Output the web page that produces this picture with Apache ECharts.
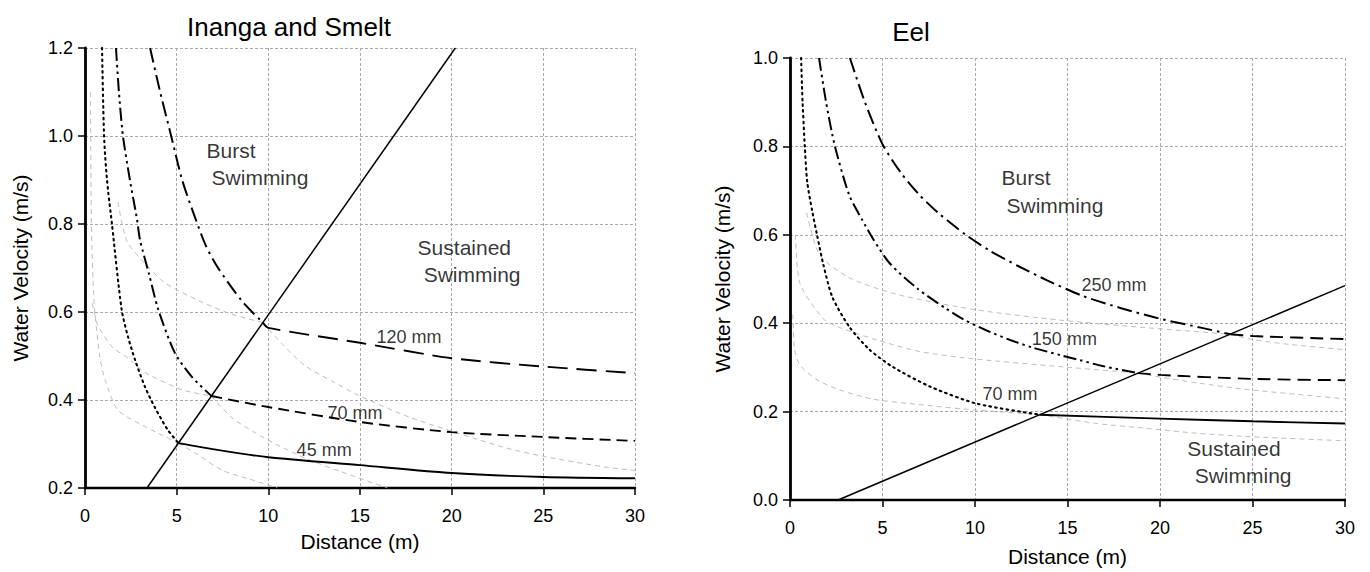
<!DOCTYPE html>
<html>
<head>
<meta charset="utf-8">
<script src="https://cdn.jsdelivr.net/npm/echarts@6/dist/echarts.min.js"></script>
<style>
html,body{margin:0;padding:0;background:#fff;}
#chart{width:1370px;height:572px;}
</style>
</head>
<body>
<div id="chart"></div>
<script>
// ---------- tick settings ----------
const xTicks = {min: 0, max: 30, interval: 5};
const leftYTicks = {min: 0.2, max: 1.2, interval: 0.2};
const rightYTicks = {min: 0, max: 1.0, interval: 0.2};

// ---------- Inanga and Smelt (left) ----------
const inLimitLine = [[3.38, 0.2], [20.2, 1.2]];
const in45Burst = [[0.93,1.2],[1.04,1.0],[1.2,0.9],[1.47,0.8],[2.0,0.605],[2.35,0.543],[2.73,0.491],[3.27,0.43],[3.8,0.384],[4.5,0.333],[5.1,0.302]];
const in45Sustained = [[5.1,0.302],[7.3,0.286],[10,0.27],[15,0.252],[20,0.234],[25,0.225],[30,0.222]];
const in70Burst = [[1.69,1.2],[1.85,1.1],[2.07,1.0],[2.45,0.9],[2.84,0.81],[3.0,0.764],[3.5,0.685],[4.0,0.605],[4.9,0.507],[5.84,0.452],[6.9,0.409]];
const in70Sustained = [[6.9,0.409],[10,0.384],[15,0.35],[20,0.327],[25,0.316],[30,0.307]];
const in120Burst = [[3.55,1.2],[4.1,1.1],[4.7,1.0],[5.3,0.9],[6.0,0.815],[6.6,0.75],[7.26,0.7],[8.56,0.625],[9.7,0.576]];
const in120Sustained = [[9.7,0.576],[10,0.564],[15,0.53],[20,0.495],[25,0.476],[30,0.461]];
// faint grey continuations
const in45SusGrey = [[0.3,1.1],[0.35,0.8],[0.5,0.62],[0.8,0.5],[1.1,0.445],[1.8,0.377],[3.3,0.339],[5.1,0.302]];
const in45BurstGrey = [[5.1,0.302],[6,0.28],[7.5,0.24],[9,0.22],[10.5,0.2]];
const in70SusGrey = [[0.4,0.62],[0.7,0.57],[1.5,0.52],[2.35,0.495],[3.3,0.462],[5.3,0.423],[6.9,0.409]];
const in70BurstGrey = [[6.9,0.409],[8,0.36],[9.3,0.325],[10.4,0.3],[12,0.268],[13.9,0.238],[16.5,0.2]];
const in120SusGrey = [[1.8,0.85],[2.3,0.76],[3.5,0.7],[4.4,0.665],[6.4,0.622],[8,0.595],[9.7,0.576]];
const in120BurstGrey = [[9.7,0.576],[10.7,0.53],[12,0.478],[13.6,0.44],[14.8,0.413],[17.7,0.361],[22.8,0.293],[25,0.272],[28.3,0.248],[30,0.24]];

// ---------- Eel (right) ----------
const eelLimitLine = [[2.6, 0], [30, 0.485]];
const eel70Burst = [[0.6,1.0],[0.68,0.9],[0.8,0.8],[0.93,0.72],[1.2,0.654],[1.46,0.6],[1.8,0.533],[2.3,0.458],[3.24,0.39],[4.3,0.34],[5.6,0.30],[7.6,0.256],[10.1,0.218],[13.5,0.193]];
const eel70Sustained = [[13.5,0.193],[20,0.184],[25,0.178],[30,0.173]];
const eel150Burst = [[1.57,1.0],[1.95,0.9],[2.43,0.8],[3.2,0.69],[3.9,0.634],[4.5,0.59],[5.4,0.535],[6.9,0.478],[8.4,0.434],[9.4,0.408],[10.6,0.384],[11.9,0.362],[13.1,0.345],[14.6,0.328],[15.7,0.316],[16.9,0.303],[18.8,0.287]];
const eel150Sustained = [[18.8,0.287],[20,0.283],[25,0.274],[30,0.271]];
const eel250Burst = [[3.24,1.0],[4.05,0.9],[5.0,0.805],[6.0,0.74],[7.0,0.69],[8.0,0.65],[9.5,0.6],[10.8,0.564],[12.3,0.53],[13.9,0.497],[15.8,0.462],[17.9,0.434],[20,0.41],[22.2,0.39],[23.8,0.375]];
const eel250Sustained = [[23.8,0.375],[25,0.371],[30,0.364]];
const eel70SusGrey = [[0.15,0.42],[0.25,0.34],[0.54,0.305],[1.46,0.272],[2.7,0.249],[4.5,0.228],[7.2,0.215],[9.9,0.204],[13.5,0.193]];
const eel70BurstGrey = [[13.5,0.193],[16.6,0.173],[19.3,0.162],[22,0.151],[25,0.143],[30,0.134]];
const eel150SusGrey = [[0.3,0.6],[0.54,0.49],[1.8,0.41],[2.7,0.39],[4.7,0.362],[7,0.336],[10,0.319],[14.8,0.301],[18.8,0.287]];
const eel150BurstGrey = [[18.8,0.287],[20,0.278],[22,0.265],[24.7,0.25],[30,0.229]];
const eel250SusGrey = [[0.9,0.65],[1.6,0.555],[3.2,0.503],[5.8,0.465],[10.1,0.43],[14.6,0.407],[18.9,0.391],[23.8,0.375]];
const eel250BurstGrey = [[23.8,0.375],[25,0.363],[27,0.352],[30,0.34]];

// ---------- text annotations (data coordinates, left-aligned) ----------
const leftNotes = [
  ['Burst', 6.66, 0.966, 'big'], ['Swimming', 6.93, 0.905, 'big'],
  ['Sustained', 18.17, 0.745, 'big'], ['Swimming', 18.5, 0.684, 'big'],
  ['120 mm', 15.93, 0.543, 'small'], ['70 mm', 13.26, 0.37, 'small'], ['45 mm', 11.57, 0.286, 'small']
];
const rightNotes = [
  ['Burst', 11.46, 0.728, 'big'], ['Swimming', 11.73, 0.665, 'big'],
  ['250 mm', 15.78, 0.485, 'small'], ['150 mm', 13.1, 0.364, 'small'], ['70 mm', 10.43, 0.238, 'small'],
  ['Sustained', 21.5, 0.115, 'big'], ['Swimming', 21.9, 0.054, 'big']
];

// ---------- styles ----------
const FONT = '"Liberation Sans", Arial, Helvetica, sans-serif';
const DOT = [1.6, 4.2];
const DASH_DOT = [15, 5, 2.5, 5];
const DASH_DOT_DOT = [13, 4, 2.5, 4, 2.5, 4];
const LONG_DASH = [20, 9];
const MED_DASH = [13, 7];
const SHORT_DASH = [11, 6];
const GREY_DASH = [5, 4];

function line(idx, data, type, width, color, smooth) {
  return {
    type: 'line', xAxisIndex: idx, yAxisIndex: idx, data: data,
    showSymbol: false, symbol: 'none', smooth: smooth === undefined ? 0.25 : smooth,
    silent: true, clip: true, z: color === '#000' ? 3 : 2,
    lineStyle: {type: type, width: width, color: color, cap: type === DOT ? 'round' : 'butt'}
  };
}
function grey(idx, data) { return line(idx, data, GREY_DASH, 0.9, '#b5b5b5'); }
function notes(idx, arr) {
  return {
    type: 'scatter', xAxisIndex: idx, yAxisIndex: idx, symbolSize: 1, silent: true, z: 5,
    itemStyle: {color: 'rgba(0,0,0,0)'},
    data: arr.map(n => ({
      name: n[0], value: [n[1], n[2]],
      label: {show: true, position: [0, 0], align: 'left', verticalAlign: 'middle',
        formatter: '{b}', color: '#000', fontFamily: FONT,
        fontSize: n[3] === 'big' ? 21 : 18}
    }))
  };
}
function xAxis(idx) {
  return {
    type: 'value', gridIndex: idx, min: xTicks.min, max: xTicks.max, interval: xTicks.interval,
    name: 'Distance (m)', nameLocation: 'middle', nameGap: idx === 0 ? 43 : 46,
    nameTextStyle: {fontSize: 21, color: '#000', fontFamily: FONT},
    axisLine: {show: true, onZero: false, lineStyle: {color: '#000', width: 2.4}},
    axisTick: {show: true, inside: false, length: 7, lineStyle: {color: '#000', width: 1.5}},
    axisLabel: {fontSize: 18, color: '#000', margin: 19, fontFamily: FONT},
    splitLine: {show: true, lineStyle: {color: '#aaaaaa', type: [3, 2], width: 1}}
  };
}
function yAxis(idx, t) {
  return {
    type: 'value', gridIndex: idx, min: t.min, max: t.max, interval: t.interval,
    name: 'Water Velocity (m/s)', nameLocation: 'middle', nameGap: idx === 0 ? 54 : 57,
    nameRotate: 90,
    nameTextStyle: {fontSize: 21, color: '#000', fontFamily: FONT},
    axisLine: {show: true, onZero: false, lineStyle: {color: '#000', width: 2.8}},
    axisTick: {show: true, inside: false, length: 7, lineStyle: {color: '#000', width: 1.5}},
    axisLabel: {fontSize: 18, color: '#000', margin: 12, fontFamily: FONT,
      formatter: v => v.toFixed(1)},
    splitLine: {show: true, lineStyle: {color: '#aaaaaa', type: [3, 2], width: 1}}
  };
}

const chart = echarts.init(document.getElementById('chart'), null, {renderer: 'svg', width: 1370, height: 572});
chart.setOption({
  animation: false,
  backgroundColor: '#fff',
  title: [
    {text: 'Inanga and Smelt', left: 284, top: 9, textAlign: 'center',
      textStyle: {fontSize: 26, fontWeight: 'normal', color: '#000', fontFamily: FONT}},
    {text: 'Eel', left: 906, top: 14, textAlign: 'center',
      textStyle: {fontSize: 26, fontWeight: 'normal', color: '#000', fontFamily: FONT}}
  ],
  grid: [
    {left: 85, width: 550, top: 48, height: 440, containLabel: false},
    {left: 790, width: 555, top: 58, height: 446, containLabel: false}
  ],
  xAxis: [xAxis(0), xAxis(1)],
  yAxis: [yAxis(0, leftYTicks), yAxis(1, rightYTicks)],
  series: [
    grey(0, in45SusGrey), grey(0, in45BurstGrey), grey(0, in70SusGrey),
    grey(0, in70BurstGrey), grey(0, in120SusGrey), grey(0, in120BurstGrey),
    line(0, inLimitLine, 'solid', 1.5, '#000', false),
    line(0, in45Burst, DOT, 2.1, '#000'),
    line(0, in45Sustained, 'solid', 1.9, '#000'),
    line(0, in70Burst, DASH_DOT_DOT, 2, '#000'),
    line(0, in70Sustained, SHORT_DASH, 1.9, '#000'),
    line(0, in120Burst, DASH_DOT, 2, '#000'),
    line(0, in120Sustained, LONG_DASH, 1.9, '#000'),
    notes(0, leftNotes),

    grey(1, eel70SusGrey), grey(1, eel70BurstGrey), grey(1, eel150SusGrey),
    grey(1, eel150BurstGrey), grey(1, eel250SusGrey), grey(1, eel250BurstGrey),
    line(1, eelLimitLine, 'solid', 1.5, '#000', false),
    line(1, eel70Burst, DOT, 2.1, '#000'),
    line(1, eel70Sustained, 'solid', 1.9, '#000'),
    line(1, eel150Burst, DASH_DOT_DOT, 2, '#000'),
    line(1, eel150Sustained, MED_DASH, 1.9, '#000'),
    line(1, eel250Burst, DASH_DOT, 2, '#000'),
    line(1, eel250Sustained, MED_DASH, 1.9, '#000'),
    notes(1, rightNotes)
  ]
});
</script>
</body>
</html>
